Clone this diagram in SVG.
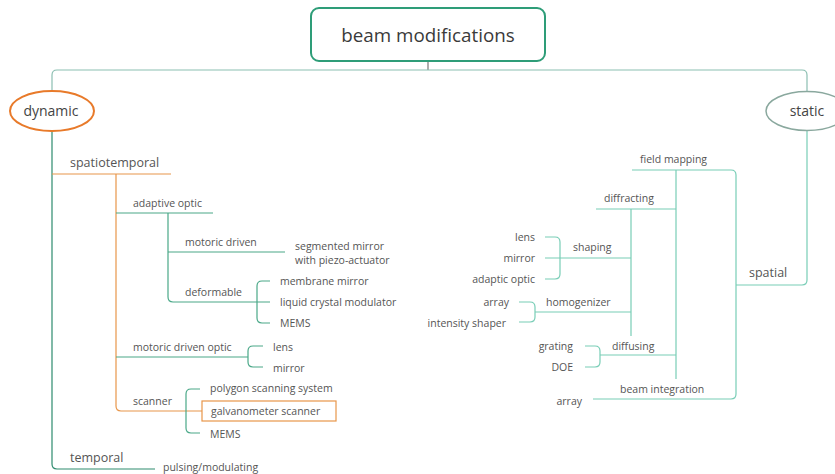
<svg xmlns="http://www.w3.org/2000/svg" width="835" height="474" viewBox="0 0 835 474">
<style>
text{font-family:"Open Sans","Noto Sans",sans-serif;fill:#555}
.s{font-size:10.5px}
.m{font-size:12.5px}
.e{font-size:14px}
.r{text-anchor:end}
.c{text-anchor:middle}
.ln{fill:none;stroke-width:1.2}
.tl{stroke:#4aa888}
.rt{stroke:#78cdb6}
.or{stroke:#e8964a}
</style>
<rect width="835" height="474" fill="#fff"/>
<g id="connectors">
<path class="ln" d="M428 61V70" stroke="#777"/>
<path class="ln" d="M52 92V75Q52 70 57 70H802Q807 70 807 75V92" stroke="#8cbfb2"/>
<path class="ln" d="M52 131V464Q52 469 57 469H155" stroke="#2e8b6e"/>
<path class="ln or" d="M52 174H171"/>
<path class="ln or" d="M116 174V406Q116 411 121 411H202"/>
<path class="ln tl" d="M116 213H213"/>
<path class="ln tl" d="M168 213V297Q168 302 173 302H257"/>
<path class="ln tl" d="M168 252H285"/>
<path class="ln tl" d="M270 281H262Q257 281 257 286V318Q257 323 262 323H270M257 302H270"/>
<path class="ln tl" d="M116 357H248"/>
<path class="ln tl" d="M263 346H253Q248 346 248 351V362Q248 367 253 367H263"/>
<path class="ln tl" d="M200 389H191Q186 389 186 394V428Q186 433 191 433H200"/>
<path class="ln rt" d="M807 130V280Q807 285 802 285H736"/>
<path class="ln rt" d="M632 170H731Q736 170 736 175V394Q736 399 731 399H593"/>
<path class="ln rt" d="M676 170V379"/>
<path class="ln rt" d="M596 209H676"/>
<path class="ln rt" d="M631 209V336"/>
<path class="ln rt" d="M560 258H631"/>
<path class="ln rt" d="M545 237H555Q560 237 560 242V274Q560 279 555 279H545M545 258H560"/>
<path class="ln rt" d="M535 312H631"/>
<path class="ln rt" d="M519 302H530Q535 302 535 307V317Q535 322 530 322H519"/>
<path class="ln rt" d="M600 355H676"/>
<path class="ln rt" d="M585 346H595Q600 346 600 351V362Q600 367 595 367H585"/>
</g>
<g id="root"><rect x="311" y="8" width="234" height="53" rx="8" fill="#fff" stroke="#2e9d78" stroke-width="2"/><text x="428" y="42" class="c" style="font-size:18.8px;fill:#3a3a3a">beam modifications</text></g>
<g id="dynamic"><ellipse cx="52" cy="111" rx="42" ry="20" fill="#fff" stroke="#e87a2a" stroke-width="2"/><text x="51" y="116" class="c e" style="fill:#444">dynamic</text></g>
<g id="static"><ellipse cx="807" cy="111" rx="41" ry="19.5" fill="#fff" stroke="#8aa89e" stroke-width="1.5"/><text x="807" y="116" class="c e" style="fill:#444">static</text></g>
<g id="spatiotemporal"><text x="70" y="167" class="m">spatiotemporal</text></g>
<g id="adaptive-optic"><text x="133" y="207" class="s">adaptive optic</text></g>
<g id="motoric-driven"><text x="185" y="246" class="s">motoric driven</text></g>
<g id="segmented-mirror"><text x="295" y="250" class="s">segmented mirror</text><text x="295" y="264" class="s">with piezo-actuator</text></g>
<g id="deformable"><text x="185" y="296" class="s">deformable</text></g>
<g id="membrane-mirror"><text x="280" y="285" class="s">membrane mirror</text></g>
<g id="lcm"><text x="280" y="306" class="s">liquid crystal modulator</text></g>
<g id="mems1"><text x="280" y="327" class="s">MEMS</text></g>
<g id="motoric-driven-optic"><text x="133" y="351" class="s">motoric driven optic</text></g>
<g id="lens1"><text x="273" y="351" class="s">lens</text></g>
<g id="mirror1"><text x="273" y="372" class="s">mirror</text></g>
<g id="scanner"><text x="133" y="405" class="s">scanner</text></g>
<g id="polygon"><text x="210" y="392" class="s">polygon scanning system</text></g>
<g id="galvo"><rect x="202" y="401" width="134" height="20" fill="#fff" stroke="#e8964a" stroke-width="1.2"/><text x="211" y="415" class="s">galvanometer scanner</text></g>
<g id="mems2"><text x="210" y="438" class="s">MEMS</text></g>
<g id="temporal"><text x="70" y="462" class="m">temporal</text></g>
<g id="pulsing"><text x="163" y="471" class="s">pulsing/modulating</text></g>
<g id="spatial"><text x="749" y="277" class="m">spatial</text></g>
<g id="field-mapping"><text x="640" y="163" class="s">field mapping</text></g>
<g id="diffracting"><text x="604" y="202" class="s">diffracting</text></g>
<g id="shaping"><text x="573" y="251" class="s">shaping</text></g>
<g id="lens2"><text x="535" y="241" class="s r">lens</text></g>
<g id="mirror2"><text x="535" y="262" class="s r">mirror</text></g>
<g id="adaptic-optic"><text x="535" y="283" class="s r">adaptic optic</text></g>
<g id="homogenizer"><text x="546" y="306" class="s">homogenizer</text></g>
<g id="array1"><text x="509" y="306" class="s r">array</text></g>
<g id="intensity-shaper"><text x="506" y="327" class="s r">intensity shaper</text></g>
<g id="diffusing"><text x="612" y="350" class="s">diffusing</text></g>
<g id="grating"><text x="573" y="350" class="s r">grating</text></g>
<g id="doe"><text x="573" y="371" class="s r">DOE</text></g>
<g id="beam-integration"><text x="620" y="393" class="s">beam integration</text></g>
<g id="array2"><text x="582" y="405" class="s r">array</text></g>
</svg>
